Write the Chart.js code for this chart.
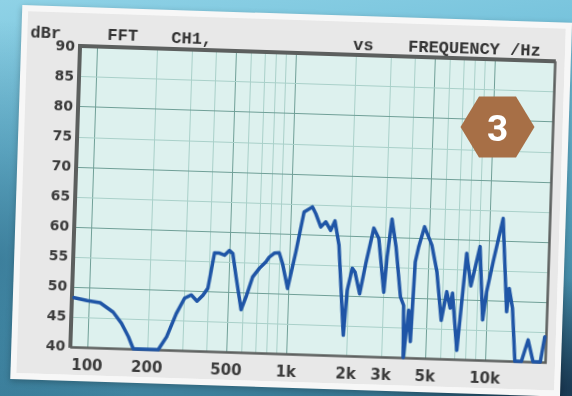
<!DOCTYPE html>
<html>
<head>
<meta charset="utf-8">
<script src="https://cdn.jsdelivr.net/npm/chart.js@4/dist/chart.umd.min.js"></script>
<style>
  html, body { margin: 0; padding: 0; }
  body {
    width: 572px; height: 396px; overflow: hidden; position: relative;
    background:
      radial-gradient(ellipse 260px 160px at 560px 390px, rgba(20,45,70,0.85), rgba(20,45,70,0) 70%),
      radial-gradient(ellipse 200px 300px at 0px 260px, rgba(40,100,130,0.6), rgba(40,100,130,0) 80%),
      linear-gradient(170deg, #8fd2e6 0%, #72c0da 30%, #4f9ab6 65%, #33708c 100%);
  }
  #paper {
    position: absolute; left: 21px; top: 7px;
    width: 550px; height: 374px;
    background: #f7f7f7;
    transform-origin: 60px 40px;
    transform: rotate(1.85deg);
    box-shadow: 0 2px 6px rgba(0,0,0,0.25);
  }
  #fft {
    position: absolute; left: 6px; top: 6px;
    background: #e8e8e8;
  }
  #badge { position: absolute; left: 0; top: 0; }
</style>
</head>
<body>
<div id="paper"><canvas id="fft" width="538" height="362"></canvas></div>
<svg id="badge" width="572" height="396">
  <polygon points="460.5,127 479,96.5 516,96.5 534.5,127 516,157.5 479,157.5" fill="#a76f46"/>
  <text x="497.5" y="140.5" text-anchor="middle" font-family="Roboto, 'DejaVu Sans', sans-serif"
        font-weight="bold" font-size="37" fill="#ffffff">3</text>
</svg>
<script>
// FFT magnitude of channel 1, level in dBr against frequency in Hz
const freqHz = [
  84, 98, 114, 133, 147, 160, 170, 227, 249, 276,
  302, 326, 349, 373, 394, 420, 445, 472, 499, 519,
  544, 583, 615, 658, 710, 764, 792, 839, 887, 926,
  990, 1075, 1165, 1281, 1335, 1421, 1502, 1596, 1671, 1766,
  1919, 1975, 2078, 2146, 2283, 2432, 2627, 2793, 3017, 3094,
  3232, 3420, 3664, 3815, 3868, 4051, 4178, 4295, 4441, 4721,
  5171, 5534, 5923, 6252, 6540, 6683, 7170, 7762, 8241, 9036,
  9561, 9908, 10580, 11680, 12580, 12850, 13450, 14090, 15200, 16310,
  17400, 18920, 19750
];
const levelDb = [
  48.2, 47.8, 47.5, 46.0, 44.2, 42.0, 40.0, 40.0, 42.2, 46.1,
  48.7, 49.3, 48.3, 49.3, 50.5, 56.4, 56.4, 56.1, 56.9, 56.4,
  52.5, 47.1, 49.3, 52.6, 54.1, 55.2, 56.0, 56.7, 56.8, 55.0,
  50.9, 57.0, 63.7, 64.6, 63.5, 61.3, 62.2, 60.8, 62.4, 58.4,
  43.4, 50.9, 54.6, 54.0, 50.4, 55.7, 61.4, 59.7, 50.8, 56.7,
  63.0, 58.4, 50.1, 48.7, 40.0, 47.9, 42.7, 56.0, 58.5, 61.9,
  58.9, 54.5, 46.4, 51.2, 48.5, 51.0, 41.5, 57.7, 52.3, 58.9,
  46.7, 51.4, 56.5, 63.7, 48.2, 52.1, 48.8, 40.0, 40.0, 43.6,
  40.0, 40.0, 44.2
];

// Frequency grid (1-2-3...9 per decade) and the ones that carry a label
const gridFreqs = [100, 200, 300, 400, 500, 600, 700, 800, 900,
                   1000, 2000, 3000, 4000, 5000, 6000, 7000, 8000, 9000,
                   10000, 20000];
const labelFreqs = [100, 200, 500, 1000, 2000, 3000, 5000, 10000];
const labelText  = ['100', '200', '500', '1k', '2k', '3k', '5k', '10k'];
const heavyFreqs = [100, 500, 1000, 5000, 10000];

const yMin = 40, yMax = 90, yStep = 5;

const headerItems = [
  { text: 'dBr',             x: 3,   y: 26 },
  { text: 'FFT',             x: 80,  y: 26 },
  { text: 'CH1,',            x: 144, y: 26.5 },
  { text: 'vs',              x: 326, y: 28 },
  { text: 'FREQUENCY /Hz',   x: 381, y: 27.5 }
];

const gridLight = '#a9d0c9';
const gridDark  = '#6f9f97';

const analyzerFrame = {
  id: 'analyzerFrame',
  beforeDraw(chart) {
    const { ctx, chartArea: a } = chart;
    ctx.save();
    ctx.fillStyle = '#ddf1ee';
    ctx.fillRect(a.left, a.top, a.right - a.left, a.bottom - a.top);
    ctx.restore();
  },
  beforeDatasetsDraw(chart) {
    const { ctx, chartArea: a } = chart;
    ctx.save();
    ctx.strokeStyle = '#5c5f5e';
    ctx.lineWidth = 4;
    ctx.beginPath();
    ctx.moveTo(a.left - 1, a.bottom + 1);
    ctx.lineTo(a.left - 1, a.top - 1);
    ctx.lineTo(a.right + 1, a.top - 1);
    ctx.stroke();
    ctx.lineWidth = 2.5;
    ctx.beginPath();
    ctx.moveTo(a.right + 0.5, a.top - 1);
    ctx.lineTo(a.right + 0.5, a.bottom + 0.5);
    ctx.lineTo(a.left - 1, a.bottom + 0.5);
    ctx.stroke();
    ctx.restore();
  },
  afterDraw(chart) {
    const ctx = chart.ctx;
    ctx.save();
    ctx.fillStyle = '#333333';
    ctx.font = "bold 17px 'Courier New', 'Nimbus Mono PS', FreeMono, 'Liberation Mono', monospace";
    ctx.textBaseline = 'alphabetic';
    headerItems.forEach(h => ctx.fillText(h.text, h.x, h.y));
    ctx.restore();
  }
};

new Chart(document.getElementById('fft'), {
  type: 'line',
  data: {
    datasets: [{
      data: freqHz.map((f, i) => ({ x: f, y: levelDb[i] })),
      borderColor: '#1f55a6',
      borderWidth: 3.5,
      pointRadius: 0,
      tension: 0,
      borderJoinStyle: 'round',
      borderCapStyle: 'round',
      clip: 6
    }]
  },
  options: {
    responsive: false,
    devicePixelRatio: 1,
    animation: false,
    layout: { padding: { top: 34, right: 8, left: 0, bottom: 0 } },
    plugins: { legend: { display: false }, tooltip: { enabled: false } },
    scales: {
      x: {
        type: 'logarithmic',
        min: 83,
        max: 20000,
        afterBuildTicks(scale) { scale.ticks = gridFreqs.map(v => ({ value: v })); },
        afterFit(scale) { scale.height = 28; },
        border: { display: false },
        grid: {
          drawTicks: false,
          lineWidth: 1,
          color: c => (c.tick && heavyFreqs.includes(c.tick.value)) ? gridDark : gridLight
        },
        ticks: {
          autoSkip: false,
          maxRotation: 0,
          padding: 10,
          color: '#3b3b3b',
          font: { family: "'DejaVu Sans', sans-serif", size: 15, weight: 'bold' },
          callback: v => {
            const i = labelFreqs.indexOf(v);
            return i >= 0 ? labelText[i] : '';
          }
        }
      },
      y: {
        type: 'linear',
        min: yMin,
        max: yMax,
        afterFit(scale) { scale.width = 54; },
        border: { display: false },
        grid: {
          drawTicks: false,
          lineWidth: 1,
          color: c => (c.tick && c.tick.value % 10 === 0) ? gridDark : gridLight
        },
        ticks: {
          stepSize: yStep,
          padding: 6,
          color: '#3b3b3b',
          font: { family: "'DejaVu Sans', sans-serif", size: 14, weight: 'bold' }
        }
      }
    }
  },
  plugins: [analyzerFrame]
});
</script>
</body>
</html>
